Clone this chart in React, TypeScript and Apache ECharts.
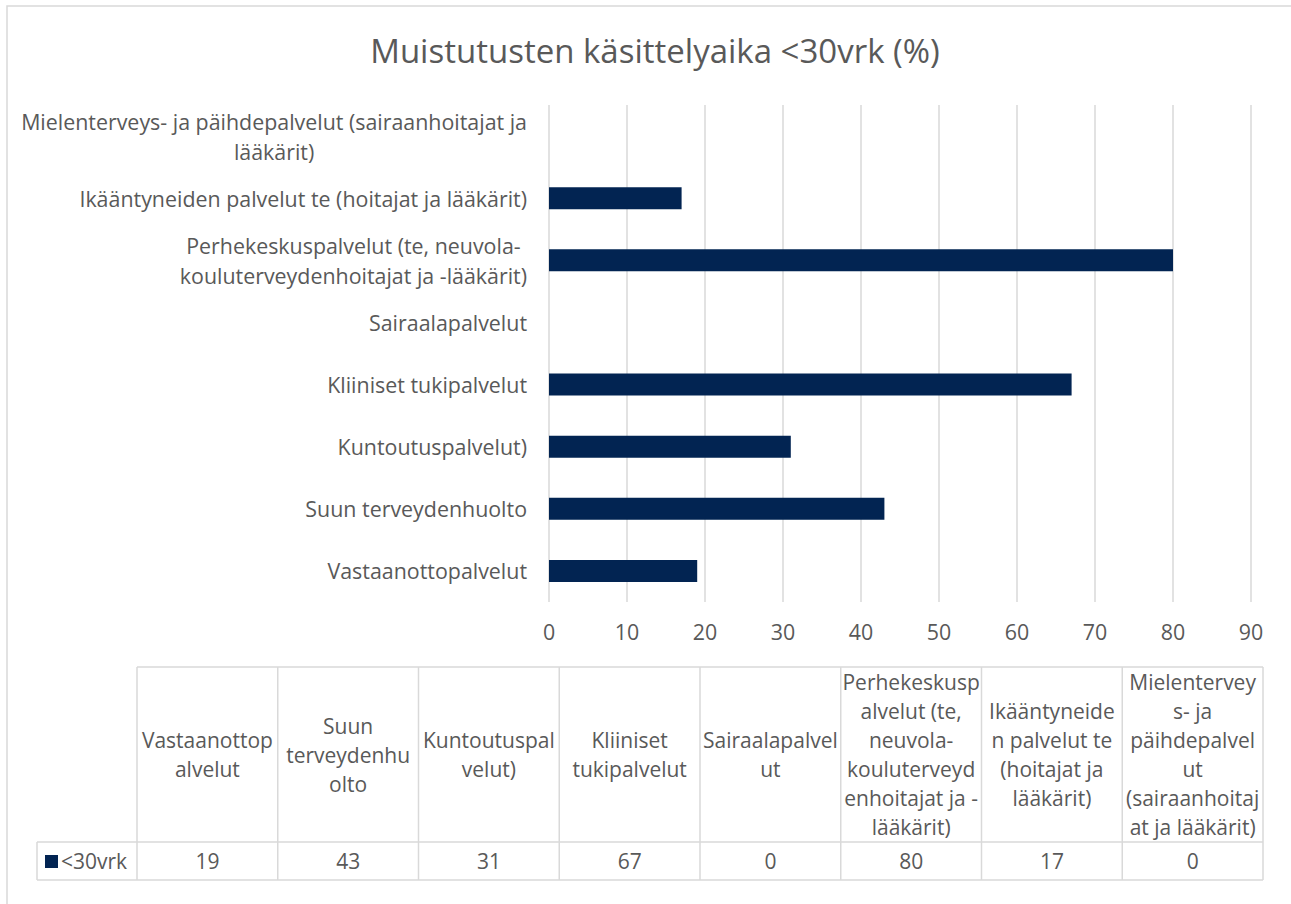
import React, { useEffect, useRef } from 'react';
import * as echarts from 'echarts';

const TITLE = 'Muistutusten käsittelyaika <30vrk (%)';
const SERIES_NAME = '<30vrk';
const categories = [
  'Vastaanottopalvelut',
  'Suun terveydenhuolto',
  'Kuntoutuspalvelut)',
  'Kliiniset tukipalvelut',
  'Sairaalapalvelut',
  'Perhekeskuspalvelut (te, neuvola-kouluterveydenhoitajat ja -lääkärit)',
  'Ikääntyneiden palvelut te (hoitajat ja lääkärit)',
  'Mielenterveys- ja päihdepalvelut (sairaanhoitajat ja lääkärit)',
];
const axisLabelLines = [
  ['Vastaanottopalvelut'],
  ['Suun terveydenhuolto'],
  ['Kuntoutuspalvelut)'],
  ['Kliiniset tukipalvelut'],
  ['Sairaalapalvelut'],
  ['Perhekeskuspalvelut (te, neuvola-', 'kouluterveydenhoitajat ja -lääkärit)'],
  ['Ikääntyneiden palvelut te (hoitajat ja lääkärit)'],
  ['Mielenterveys- ja päihdepalvelut (sairaanhoitajat ja', 'lääkärit)'],
];
const tableHeaderLines = [
  ['Vastaanottop', 'alvelut'],
  ['Suun', 'terveydenhu', 'olto'],
  ['Kuntoutuspal', 'velut)'],
  ['Kliiniset', 'tukipalvelut'],
  ['Sairaalapalvel', 'ut'],
  ['Perhekeskusp', 'alvelut (te,', 'neuvola-', 'kouluterveyd', 'enhoitajat ja -', 'lääkärit)'],
  ['Ikääntyneide', 'n palvelut te', '(hoitajat ja', 'lääkärit)'],
  ['Mielentervey', 's- ja', 'päihdepalvel', 'ut', '(sairaanhoitaj', 'at ja lääkärit)'],
];
const values = [19, 43, 31, 67, 0, 80, 17, 0];
const X_MIN = 0;
const X_MAX = 90;
const X_INTERVAL = 10;

const FONT = '"Open Sans", Lato, sans-serif';
const FS = 21;
const FS_AXIS = 21.4;
const TEXT_COLOR = '#595959';
const LINE_COLOR = '#d9d9d9';
const BAR_COLOR = '#022452';

export default function App() {
  const ref = useRef<HTMLDivElement>(null);
  useEffect(() => {
    if (!ref.current) return;
    const chart = echarts.init(ref.current, undefined, { renderer: 'svg' });

    // table layout
    const tLeft = 137;
    const tRight = 1263;
    const tTop = 667;
    const tMid = 842;
    const tBottom = 880;
    const legLeft = 37;
    const n = categories.length;
    const colW = (tRight - tLeft) / n;

    const graphics: any[] = [];
    graphics.push({
      type: 'rect',
      shape: { x: 7, y: 6, width: 1300, height: 920 },
      style: { fill: 'none', stroke: LINE_COLOR, lineWidth: 1.5 },
      silent: true,
    });
    const line = (x1: number, y1: number, x2: number, y2: number) => ({
      type: 'line',
      shape: { x1, y1, x2, y2 },
      style: { stroke: LINE_COLOR, lineWidth: 1.5 },
      silent: true,
    });
    graphics.push(line(tLeft, tTop, tRight, tTop));
    graphics.push(line(legLeft, tMid, tRight, tMid));
    graphics.push(line(legLeft, tBottom, tRight, tBottom));
    graphics.push(line(legLeft, tMid, legLeft, tBottom));
    for (let i = 0; i <= n; i++) {
      const x = tLeft + i * colW;
      graphics.push(line(x, tTop, x, tBottom));
    }
    for (let i = 0; i < n; i++) {
      const cx = tLeft + (i + 0.5) * colW;
      graphics.push({
        type: 'text',
        x: cx,
        y: (tTop + tMid) / 2,
        silent: true,
        style: {
          text: tableHeaderLines[i].join('\n'),
          align: 'center',
          verticalAlign: 'middle',
          lineHeight: 29,
          fontSize: FS,
          fontFamily: FONT,
          fill: TEXT_COLOR,
        },
      });
      graphics.push({
        type: 'text',
        x: cx,
        y: (tMid + tBottom) / 2,
        silent: true,
        style: {
          text: String(values[i]),
          align: 'center',
          verticalAlign: 'middle',
          fontSize: FS,
          fontFamily: FONT,
          fill: TEXT_COLOR,
        },
      });
    }
    graphics.push({
      type: 'rect',
      shape: { x: 45, y: 855, width: 13, height: 13 },
      style: { fill: BAR_COLOR },
      silent: true,
    });
    graphics.push({
      type: 'text',
      x: 61,
      y: (tMid + tBottom) / 2,
      silent: true,
      style: {
        text: SERIES_NAME,
        align: 'left',
        verticalAlign: 'middle',
        fontSize: FS,
        fontFamily: FONT,
        fill: TEXT_COLOR,
      },
    });

    chart.setOption({
      animation: false,
      title: {
        text: TITLE,
        left: 650,
        top: 29,
        textAlign: 'center',
        textStyle: { fontSize: 33, fontWeight: 'normal', fontFamily: FONT, color: TEXT_COLOR },
      },
      grid: { left: 549, right: 40, top: 105, bottom: 302, containLabel: false },
      xAxis: {
        type: 'value',
        min: X_MIN,
        max: X_MAX,
        interval: X_INTERVAL,
        axisLine: { show: false },
        axisTick: { show: false },
        splitLine: { show: true, lineStyle: { color: LINE_COLOR, width: 1.5 } },
        axisLabel: { fontSize: FS_AXIS, fontFamily: FONT, color: TEXT_COLOR, margin: 19 },
      },
      yAxis: {
        type: 'category',
        data: categories,
        axisLine: { show: false },
        axisTick: { show: false },
        axisLabel: {
          margin: 22,
          interval: 0,
          formatter: (_v: string, idx: number) =>
            axisLabelLines[idx].map((l) => `{c|${l}}`).join('\n'),
          rich: {
            c: { align: 'center', fontSize: FS_AXIS, fontFamily: FONT, color: TEXT_COLOR, lineHeight: 30 },
          },
        },
      },
      series: [
        {
          type: 'bar',
          name: SERIES_NAME,
          data: values,
          barWidth: 22,
          itemStyle: { color: BAR_COLOR },
        },
      ],
      graphic: graphics,
    });
    return () => chart.dispose();
  }, []);
  return (
    <div
      ref={ref}
      style={{ position: 'fixed', left: 0, top: 0, width: 1291, height: 904, background: '#fff' }}
    />
  );
}
